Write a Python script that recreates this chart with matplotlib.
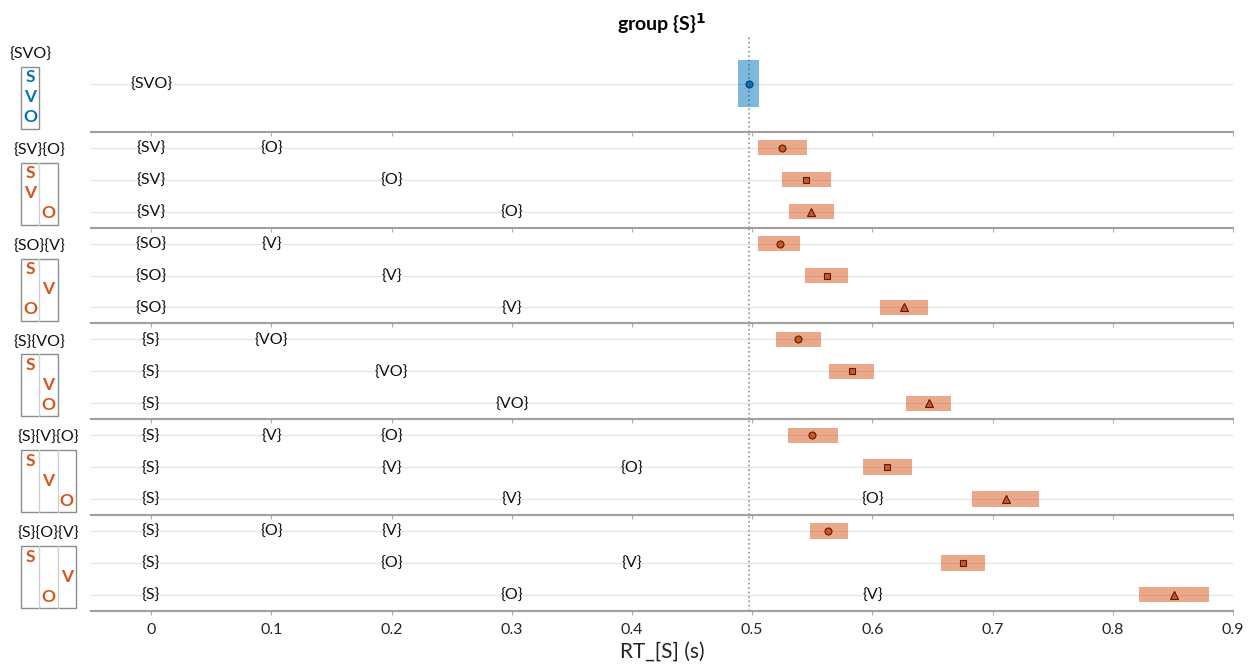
import numpy as np
import matplotlib.pyplot as plt
from matplotlib.patches import Rectangle
from matplotlib.ticker import FuncFormatter

plt.rcParams['font.family'] = ['Lato', 'DejaVu Sans']

# chunking of S, V, O in each condition
groups = ["{SVO}", "{SV}{O}", "{SO}{V}", "{S}{VO}", "{S}{V}{O}", "{S}{O}{V}"]
chunks = [["SVO"], ["SV", "O"], ["SO", "V"], ["S", "VO"], ["S", "V", "O"], ["S", "O", "V"]]
soa = [0.1, 0.2, 0.3]

# RT of S: mean and CI per row (first group has one row)
rt_mean = [[0.497],
           [0.525, 0.545, 0.549],
           [0.523, 0.562, 0.626],
           [0.538, 0.583, 0.647],
           [0.550, 0.612, 0.711],
           [0.563, 0.675, 0.851]]
rt_lo = [[0.488],
         [0.505, 0.525, 0.531],
         [0.505, 0.544, 0.606],
         [0.520, 0.564, 0.628],
         [0.530, 0.592, 0.683],
         [0.548, 0.657, 0.822]]
rt_hi = [[0.506],
         [0.546, 0.566, 0.568],
         [0.540, 0.580, 0.646],
         [0.557, 0.601, 0.665],
         [0.571, 0.633, 0.739],
         [0.580, 0.694, 0.880]]
ref_rt = 0.497

blue = "#0072BD"
orange = "#D95319"
markers = ["o", "s", "^"]

W, H = 1252, 668
fig = plt.figure(figsize=(W / 100, H / 100), dpi=100)

left, right = 91, 1233
top, gh = 36, 95.8

# background layer in pixel units for the chunk icons
bg = fig.add_axes([0, 0, 1, 1])
bg.set_xlim(0, W)
bg.set_ylim(H, 0)
bg.axis("off")

tick_fmt = FuncFormatter(lambda v, p: "0" if abs(v) < 1e-9 else f"{v:.1f}")

axes = []
for g, name in enumerate(groups):
    y0 = top + g * gh
    ax = fig.add_axes([left / W, 1 - (y0 + gh) / H, (right - left) / W, gh / H])
    axes.append(ax)
    ax.set_xlim(-0.05, 0.9)
    ax.set_ylim(3, 0)
    ax.set_yticks([])
    ax.set_xticks(np.arange(0, 0.91, 0.1))
    ax.xaxis.set_major_formatter(tick_fmt)
    for s in ["top", "left", "right"]:
        ax.spines[s].set_visible(False)
    ax.spines["bottom"].set_color("#a0a0a0")
    ax.spines["bottom"].set_linewidth(1.5)
    ax.tick_params(axis="x", direction="out", length=3, color="#b0b0b0",
                   labelsize=11.5, labelcolor="#262626", pad=6,
                   labelbottom=(g == len(groups) - 1))
    ax.patch.set_alpha(0)

    ax.axvline(ref_rt, color="#909090", ls=":", lw=1.2, zorder=1)

    if g == 0:
        rows_y = [1.5]
        color = blue
        bar_h = 1.47
    else:
        rows_y = [0.5, 1.5, 2.5]
        color = orange
        bar_h = 0.48

    for r, yy in enumerate(rows_y):
        ax.axhline(yy, color="#e6e6e6", lw=1, zorder=0)
        lo, hi, m = rt_lo[g][r], rt_hi[g][r], rt_mean[g][r]
        ax.barh(yy, hi - lo, left=lo, height=bar_h, color=color, alpha=0.5,
                edgecolor="none", zorder=2)
        ax.plot(m, yy, marker=markers[r] if g > 0 else "o", ms=5 if r < 2 else 5.5,
                mfc=color, mec="#4a2010" if g > 0 else "#0b3b66", mew=0.8, zorder=3)
        # chunk onset labels
        step = soa[r]
        for k, c in enumerate(chunks[g]):
            ax.text(k * step, yy + 0.04, "{" + c + "}", ha="center", va="center",
                    fontsize=11.5, color="#111111", zorder=4)

    # chunk icon on the left
    ncol = len(chunks[g])
    cw = 18.3
    bx, by, bh = 21, y0 + 31, 62
    bg.text(bx + cw * ncol / 2, y0 + 19, name, ha="center", va="center",
            fontsize=11.5, color="#111111")
    bg.add_patch(Rectangle((bx, by), cw * ncol, bh, fill=False,
                           ec="#8c8c8c", lw=1))
    for k in range(1, ncol):
        bg.plot([bx + k * cw] * 2, [by, by + bh], color="#d0d0d0", lw=1)
    for k, c in enumerate(chunks[g]):
        for letter in c:
            row = "SVO".index(letter)
            bg.text(bx + (k + 0.5) * cw, by + 10.5 + 20 * row, letter,
                    ha="center", va="center", fontsize=12.5, fontweight="bold",
                    color=color)

axes[0].set_title(r"group {S}$^\mathbf{1}$", fontsize=14, fontweight="bold",
                  pad=4)
axes[-1].set_xlabel("RT_[S] (s)", fontsize=15, color="#222222", labelpad=3)

fig.savefig("out.png", dpi=100)
